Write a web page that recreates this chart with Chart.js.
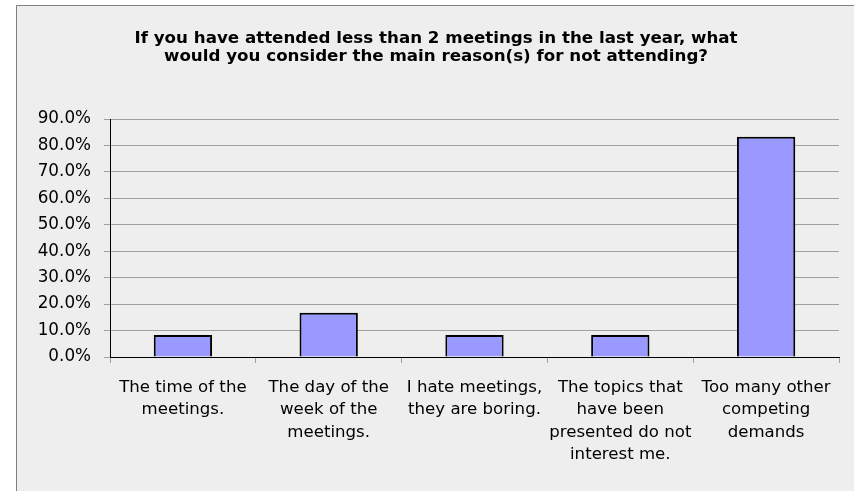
<!DOCTYPE html>
<html>
<head>
<meta charset="utf-8">
<script src="https://cdn.jsdelivr.net/npm/chart.js@4.4.1/dist/chart.umd.min.js"></script>
<style>
  html, body { margin: 0; padding: 0; background: #fff; }
  #wrap { width: 854px; height: 491px; }
</style>
</head>
<body>
<div id="wrap"><canvas id="chart" width="854" height="491"></canvas></div>
<script>
const titleLines = [
  "If you have attended less than 2 meetings in the last year, what",
  "would you consider the main reason(s) for not attending?",
];
const categories = [
  ["The time of the", "meetings."],
  ["The day of the", "week of the", "meetings."],
  ["I hate meetings,", "they are boring."],
  ["The topics that", "have been", "presented do not", "interest me."],
  ["Too many other", "competing", "demands"],
];
const percents = [8.3, 16.7, 8.3, 8.3, 83.3];
const yTicks = [0, 10, 20, 30, 40, 50, 60, 70, 80, 90];

const FONT = "'DejaVu Sans', Verdana, sans-serif";

// grey chart frame, cropped on the right and bottom like the source image
const framePlugin = {
  id: "frame",
  beforeDraw(c) {
    const ctx = c.ctx;
    ctx.save();
    ctx.fillStyle = "#ffffff";
    ctx.fillRect(0, 0, c.width, c.height);
    ctx.fillStyle = "#eeeeee";
    ctx.fillRect(16, 5, c.width, c.height);
    ctx.strokeStyle = "#808080";
    ctx.lineWidth = 1;
    ctx.beginPath();
    ctx.moveTo(16.5, c.height);
    ctx.lineTo(16.5, 5.5);
    ctx.lineTo(c.width, 5.5);
    ctx.stroke();
    ctx.restore();
  },
};

new Chart(document.getElementById("chart"), {
  type: "bar",
  data: {
    labels: categories,
    datasets: [{
      data: percents,
      backgroundColor: "#9999ff",
      borderColor: "#000000",
      borderWidth: 2,
      barPercentage: 0.4,
      categoryPercentage: 1,
    }],
  },
  options: {
    responsive: false,
    animation: false,
    layout: { padding: { left: 33, right: 15, top: 0, bottom: 0 } },
    plugins: {
      legend: { display: false },
      tooltip: { enabled: false },
      title: {
        display: true,
        text: titleLines,
        color: "#000",
        font: { family: FONT, size: 16.7, weight: "bold", lineHeight: 1.12 },
        padding: { top: 29, bottom: 52.6 },
      },
    },
    scales: {
      x: {
        afterFit(s) { s.height = 134; },
        border: { color: "#000", width: 1 },
        grid: { drawOnChartArea: false, drawTicks: true, tickLength: 6, color: "#a0a0a0" },
        ticks: { color: "#000", padding: 14, maxRotation: 0, autoSkip: false, font: { family: FONT, size: 16.6, lineHeight: 1.33 } },
      },
      y: {
        min: 0,
        max: 90,
        afterFit(s) { s.width = 77; },
        afterBuildTicks(s) { s.ticks = yTicks.map(v => ({ value: v })); },
        border: { color: "#000", width: 1 },
        grid: { color: "#a0a0a0", tickLength: 6 },
        ticks: {
          color: "#000",
          padding: 13,
          font: { family: FONT, size: 16.8 },
          callback: v => v.toFixed(1) + "%",
        },
      },
    },
  },
  plugins: [framePlugin],
});
</script>
</body>
</html>
